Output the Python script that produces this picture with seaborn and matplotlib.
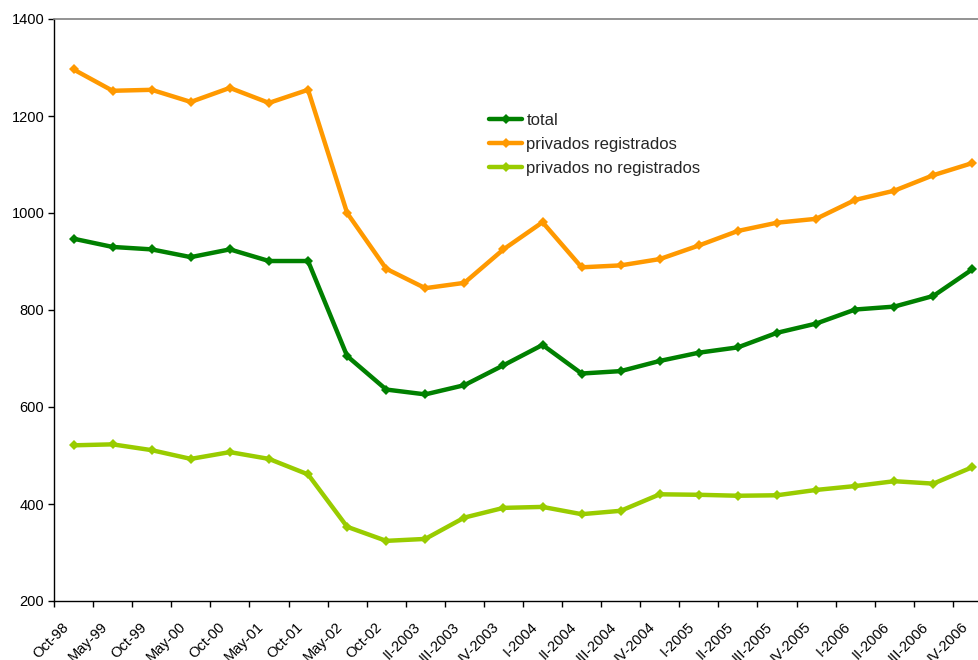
import matplotlib
matplotlib.use("Agg")
import matplotlib.pyplot as plt
from matplotlib.lines import Line2D
from matplotlib.transforms import ScaledTranslation
import numpy as np
import pandas as pd
import seaborn as sns

periodos = [
    "Oct-98", "May-99", "Oct-99", "May-00", "Oct-00", "May-01", "Oct-01",
    "May-02", "Oct-02", "II-2003", "III-2003", "IV-2003", "I-2004", "II-2004",
    "III-2004", "IV-2004", "I-2005", "II-2005", "III-2005", "IV-2005",
    "I-2006", "II-2006", "III-2006", "IV-2006",
]
total = [947, 930, 925, 909, 925, 901, 901, 705, 636, 626, 645, 686, 728,
         669, 674, 695, 712, 723, 753, 772, 801, 807, 829, 884]
privados_registrados = [1296, 1252, 1254, 1229, 1258, 1227, 1254, 1000, 885,
                        845, 856, 925, 981, 888, 892, 905, 933, 963, 980, 988,
                        1027, 1046, 1078, 1103]
privados_no_registrados = [521, 523, 511, 493, 507, 493, 461, 353, 324, 328,
                           372, 392, 394, 379, 386, 420, 419, 417, 418, 429,
                           437, 447, 442, 476]

series = ["total", "privados registrados", "privados no registrados"]
colores = {"total": "#008000",
           "privados registrados": "#FF9900",
           "privados no registrados": "#99CC00"}

df = pd.concat([
    pd.DataFrame({"pos": np.arange(len(periodos)), "valor": vals, "serie": nombre})
    for nombre, vals in zip(series, [total, privados_registrados, privados_no_registrados])
], ignore_index=True)

sns.set_style("white")
plt.rcParams["font.family"] = ["Liberation Sans", "DejaVu Sans"]

fig = plt.figure(figsize=(9.79, 6.6), dpi=100)
ax = fig.add_axes([54 / 979, 59 / 660, 938 / 979, 582 / 660])

sns.lineplot(data=df, x="pos", y="valor", hue="serie", hue_order=series,
             palette=colores, marker="D", markersize=5.5, markeredgewidth=0,
             linewidth=3.2, legend=False, ax=ax)

ax.set_xlim(-0.5, len(periodos) - 0.5)
ax.set_ylim(200, 1400)
ax.set_yticks(np.arange(200, 1401, 200))
ax.set_xticks(np.arange(len(periodos)))
ax.set_xticklabels(periodos, rotation=45, ha="right", va="top",
                   rotation_mode="anchor")
ax.set_xticks(np.arange(len(periodos) + 1) - 0.5, minor=True)
ax.tick_params(axis="x", which="major", length=0, pad=7, labelsize=10.5,
               colors="black")
ax.tick_params(axis="x", which="minor", length=4, width=1, color="black",
               direction="out", bottom=True)
ax.tick_params(axis="y", length=4, width=1, direction="out", left=True,
               labelsize=10.5, colors="black", pad=3)
ax.set_xlabel("")
ax.set_ylabel("")

# nudge the rotated category labels left and down
desplazamiento = ScaledTranslation(-12 / 100, -9 / 100, fig.dpi_scale_trans)
for etiqueta in ax.get_xticklabels():
    etiqueta.set_transform(etiqueta.get_transform() + desplazamiento)

for lado in ["left", "bottom"]:
    ax.spines[lado].set_color("black")
    ax.spines[lado].set_linewidth(1)
ax.spines["top"].set_color("#808080")
ax.spines["top"].set_linewidth(1.2)
ax.spines["right"].set_visible(False)

handles = [Line2D([], [], color=colores[s], linewidth=3.2, marker="D",
                  markersize=5, markeredgewidth=0) for s in series]
ax.legend(handles, series, loc="upper left",
          bbox_to_anchor=(489 / 979, 1 - 113 / 660),
          bbox_transform=fig.transFigure, frameon=False, fontsize=12,
          handlelength=2.0, handletextpad=0.25, labelspacing=0.55,
          borderpad=0, borderaxespad=0)

fig.savefig("out.png", dpi=100)
